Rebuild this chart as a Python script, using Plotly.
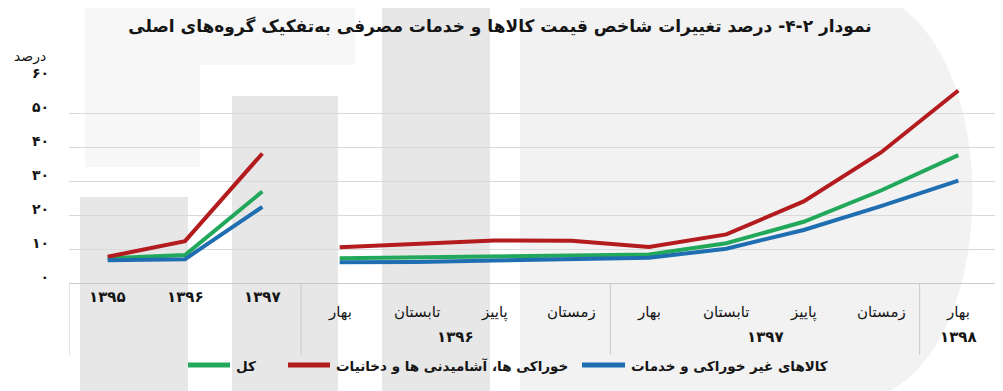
import plotly.graph_objects as go

# ---------------- data ----------------
annual_labels = ["۱۳۹۵", "۱۳۹۶", "۱۳۹۷"]
season_labels = ["بهار", "تابستان", "پاییز", "زمستان",
                 "بهار", "تابستان", "پاییز", "زمستان", "بهار"]
quarter_year_labels = ["۱۳۹۶", "۱۳۹۷", "۱۳۹۸"]
quarter_year_span = [4, 4, 1]

series_names = ["کل", "خوراکی ها، آشامیدنی ها و دخانیات", "کالاهای غیر خوراکی و خدمات"]

total_annual = [7.3, 8.2, 26.9]
food_annual = [7.7, 12.3, 38.1]
nonfood_annual = [6.7, 7.0, 22.4]

total_quarterly = [7.3, 7.5, 7.9, 8.1, 8.4, 11.7, 18.0, 27.2, 37.6]
food_quarterly = [10.5, 11.6, 12.5, 12.4, 10.6, 14.3, 24.0, 38.4, 56.6]
nonfood_quarterly = [6.1, 6.2, 6.6, 6.9, 7.4, 10.1, 15.6, 22.6, 30.1]

y_ticks = [0, 10, 20, 30, 40, 50, 60]
y_tick_text = ["۰", "۱۰", "۲۰", "۳۰", "۴۰", "۵۰", "۶۰"]

colors = ["#22A85A", "#B31B1E", "#1F6EB2"]
FONT = "DejaVu Sans"
TXT = "#151515"

# ---------------- geometry (page pixels; body has an 8px margin) ----------------
OFF = 8
PAGE_W, PAGE_H = 1003, 391
W, H = PAGE_W - OFF, PAGE_H - OFF
PLOT_L, PLOT_R, PLOT_T, PLOT_B = 69, 997, 79, 283
ML, MR = PLOT_L - OFF, W - (PLOT_R - OFF)
MT, MB = PLOT_T - OFF, H - (PLOT_B - OFF)
PW, PH = PLOT_R - PLOT_L, PLOT_B - PLOT_T


def px(x):
    return (x - PLOT_L) / PW


def py(y):
    return (PLOT_B - y) / PH


n_a = len(annual_labels)
n_q = len(season_labels)
x_annual = list(range(n_a))
x_quarter = list(range(n_a, n_a + n_q))


def build(a, q):
    xs = x_annual + [n_a - 0.5] + x_quarter
    ys = a + [None] + q
    return xs, ys


fig = go.Figure()
for name, a, q, c in zip(series_names,
                         [total_annual, food_annual, nonfood_annual],
                         [total_quarterly, food_quarterly, nonfood_quarterly],
                         colors):
    xs, ys = build(a, q)
    fig.add_trace(go.Scatter(x=xs, y=ys, mode="lines", name=name,
                             connectgaps=False, showlegend=False,
                             line=dict(color=c, width=4)))

# ---------------- watermark shapes ----------------
shapes = []


def rect(x0, y0, x1, y1, color):
    shapes.append(dict(type="rect", xref="paper", yref="paper",
                       x0=px(x0), x1=px(x1), y0=py(y1), y1=py(y0),
                       fillcolor=color, line=dict(width=0), layer="below"))


rect(85, 0, 200, 167, "#f7f7f7")
rect(200, 0, 355, 65, "#f7f7f7")
rect(80, 197, 188, 391, "#e7e7e7")
rect(232, 96, 338, 391, "#e7e7e7")
rect(382, 0, 490, 391, "#e7e7e7")
d_path = (f"M {px(520)},{py(0)} L {px(890)},{py(0)} "
          f"C {px(1000)},{py(60)} {px(1000)},{py(330)} {px(890)},{py(391)} "
          f"L {px(520)},{py(391)} Z")
shapes.append(dict(type="path", xref="paper", yref="paper", path=d_path,
                   fillcolor="#f2f2f2", line=dict(width=0), layer="below"))

# category group separators below the x axis
for b in [-0.5, n_a - 0.5, n_a + 3.5, n_a + 7.5, n_a + 8.5]:
    shapes.append(dict(type="line", xref="x", yref="paper",
                       x0=b, x1=b, y0=0, y1=py(355),
                       line=dict(color="#c9c9c9", width=1)))

# ---------------- legend (drawn manually for Excel-like long line keys) ----------------
legend_line_x = [(188, 230), (288, 330), (582, 625)]
legend_y = 365
ann = []
for (x0, x1), name, c in zip(legend_line_x, series_names, colors):
    shapes.append(dict(type="line", xref="paper", yref="paper",
                       x0=px(x0), x1=px(x1), y0=py(legend_y), y1=py(legend_y),
                       line=dict(color=c, width=5)))
    ann.append(dict(x=px(x1 + 4), y=py(legend_y + 1), xref="paper", yref="paper",
                    text=f"<b>{name}</b>", showarrow=False,
                    font=dict(family=FONT, size=13.5, color=TXT),
                    xanchor="left", yanchor="middle"))

# ---------------- axis category labels ----------------
for i, t in enumerate(annual_labels):
    ann.append(dict(x=x_annual[i], y=py(297), xref="x", yref="paper", text=f"<b>{t}</b>",
                    showarrow=False, font=dict(family=FONT, size=15, color=TXT),
                    xanchor="center", yanchor="middle"))
for i, t in enumerate(season_labels):
    ann.append(dict(x=x_quarter[i], y=py(312), xref="x", yref="paper", text=t,
                    showarrow=False, font=dict(family=FONT, size=15, color=TXT),
                    xanchor="center", yanchor="middle"))
start = n_a
for t, span in zip(quarter_year_labels, quarter_year_span):
    ann.append(dict(x=start + (span - 1) / 2, y=py(337), xref="x", yref="paper",
                    text=f"<b>{t}</b>", showarrow=False,
                    font=dict(family=FONT, size=15, color=TXT),
                    xanchor="center", yanchor="middle"))
    start += span
ann.append(dict(x=px(30), y=py(57), xref="paper", yref="paper", text="درصد",
                showarrow=False, font=dict(family=FONT, size=14, color=TXT),
                xanchor="center", yanchor="middle"))

fig.update_layout(
    width=W, height=H,
    margin=dict(l=ML, r=MR, t=MT, b=MB),
    paper_bgcolor="white", plot_bgcolor="rgba(0,0,0,0)",
    title=dict(text="<b>نمودار ۲-۴- درصد تغییرات شاخص قیمت کالاها و خدمات مصرفی به‌تفکیک گروه‌های اصلی</b>",
               x=(500 - OFF) / W, xanchor="center", y=1 - (26 - OFF) / H, yanchor="middle",
               font=dict(family=FONT, size=17, color=TXT)),
    shapes=shapes, annotations=ann,
    showlegend=False,
    font=dict(family=FONT),
)
fig.update_xaxes(range=[-0.5, n_a + n_q - 0.5], showticklabels=False, showgrid=False,
                 zeroline=False, showline=True, linecolor="#c9c9c9", linewidth=1,
                 ticks="", fixedrange=True)
fig.update_yaxes(range=[0, 60], tickvals=y_ticks, ticktext=y_tick_text,
                 showgrid=True, gridcolor="#d9d9d9", gridwidth=1, zeroline=False,
                 showline=False, ticks="", ticklabelstandoff=19, ticklabelshift=-6,
                 tickfont=dict(family=FONT, size=14, color=TXT, weight="bold"),
                 fixedrange=True)

fig.write_html("out.html")
